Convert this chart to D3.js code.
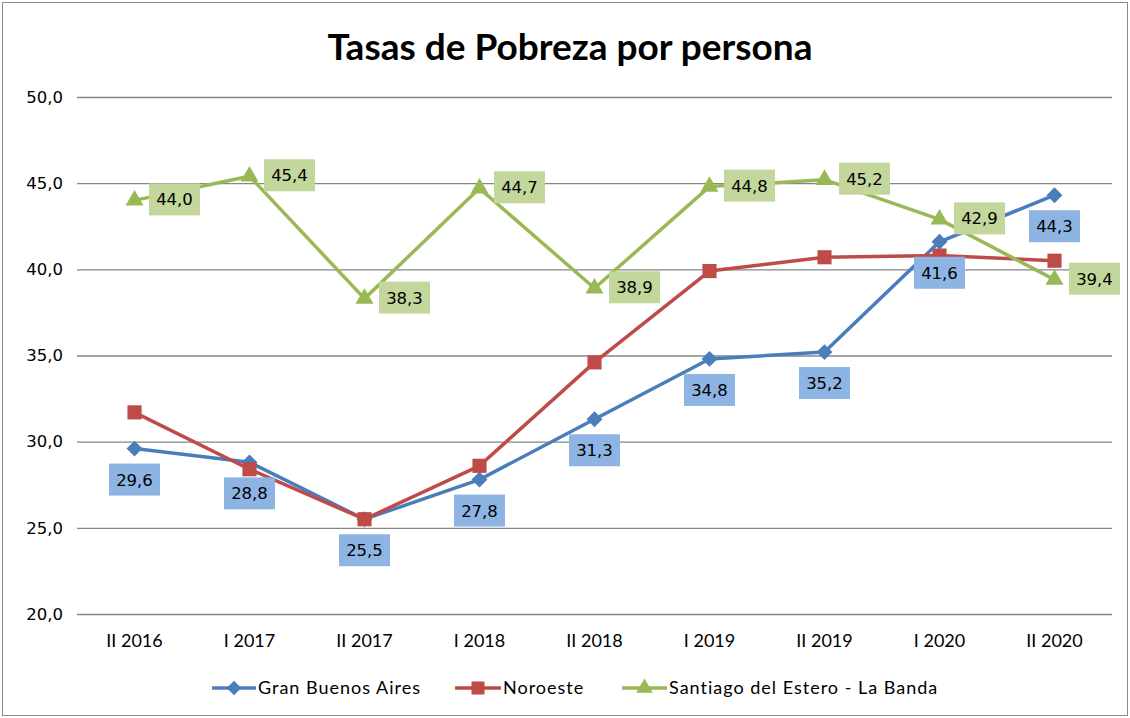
<!DOCTYPE html>
<html>
<head>
<meta charset="utf-8">
<script src="https://cdn.jsdelivr.net/npm/d3@7"></script>
<style>
  html, body { margin: 0; padding: 0; background: #fff; }
  svg { display: block; }
</style>
</head>
<body>
<div id="chart"></div>
<script>
const categories = ["II 2016", "I 2017", "II 2017", "I 2018", "II 2018", "I 2019", "II 2019", "I 2020", "II 2020"];
const gbaValues = [29.6, 28.8, 25.5, 27.8, 31.3, 34.8, 35.2, 41.6, 44.3];
const noaValues = [31.7, 28.4, 25.5, 28.6, 34.6, 39.9, 40.7, 40.8, 40.5];
const sdeValues = [44.0, 45.4, 38.3, 44.7, 38.9, 44.8, 45.2, 42.9, 39.4];
const yTicks = [20, 25, 30, 35, 40, 45, 50];
const seriesNames = ["Gran Buenos Aires", "Noroeste", "Santiago del Estero - La Banda"];
const title = "Tasas de Pobreza por persona";

const W = 1130, H = 718;
const svg = d3.select("#chart").append("svg").attr("width", W).attr("height", H);

svg.append("rect").attr("x", 2.5).attr("y", 2.5).attr("width", W - 5).attr("height", H - 5)
  .attr("fill", "#fff").attr("stroke", "#8c8c8c").attr("stroke-width", 1);

const x = d3.scaleBand().domain(categories).range([77, 1112]);
const y = d3.scaleLinear().domain([20, 50]).range([614, 97]);
const cx = c => x(c) + x.bandwidth() / 2;

const fmt = v => d3.format(".1f")(v).replace(".", ",");

// title
svg.append("text").attr("x", 570).attr("y", 60).attr("text-anchor", "middle")
  .attr("font-family", "Lato, 'Open Sans', sans-serif").attr("font-weight", "bold")
  .attr("font-size", 37).attr("fill", "#000").text(title);

// gridlines + y labels
const yAxis = d3.axisLeft(y).tickValues(yTicks).tickSize(-(1112 - 77)).tickFormat(fmt).tickPadding(14);
const gy = svg.append("g").attr("transform", "translate(77,0)").call(yAxis);
gy.select(".domain").remove();
gy.selectAll(".tick line").attr("stroke", "#868686").attr("stroke-width", 1.3);
gy.selectAll(".tick text").attr("font-family", "'DejaVu Sans', Verdana, sans-serif")
  .attr("font-size", 16.5).attr("fill", "#000");

// x axis labels
const xAxis = d3.axisBottom(x).tickSize(0).tickPadding(20);
const gx = svg.append("g").attr("transform", "translate(0,614)").call(xAxis);
gx.select(".domain").remove();
gx.selectAll(".tick text").attr("font-family", "Lato, 'Open Sans', sans-serif")
  .attr("font-size", 18).attr("fill", "#000");

const colors = ["#4A7EBB", "#BE4B48", "#98B954"];
const labelFill = ["#8EB4E3", "#8EB4E3", "#C3D69B"];
const allSeries = [gbaValues, noaValues, sdeValues];
const markerTypes = [d3.symbolDiamond2, d3.symbolSquare, d3.symbolTriangle];
const markerSizes = [160, 200, 140];

const line = d3.line().x((d, i) => cx(categories[i])).y(d => y(d));

allSeries.forEach((vals, s) => {
  const g = svg.append("g");
  g.append("path").datum(vals).attr("d", line).attr("fill", "none")
    .attr("stroke", colors[s]).attr("stroke-width", 3.5).attr("stroke-linejoin", "round");
  g.selectAll("path.m").data(vals).enter().append("path").attr("class", "m")
    .attr("transform", (d, i) => `translate(${cx(categories[i])},${y(d)})`)
    .attr("d", d3.symbol().type(markerTypes[s]).size(markerSizes[s]))
    .attr("fill", colors[s]);
});

// data labels: blue below, green right
function drawLabels(vals, s, dx, dy) {
  const g = svg.append("g");
  vals.forEach((d, i) => {
    const px = cx(categories[i]) + dx, py = y(d) + dy;
    g.append("rect").attr("x", px - 25.5).attr("y", py - 16).attr("width", 51).attr("height", 32)
      .attr("fill", labelFill[s]);
    g.append("text").attr("x", px).attr("y", py).attr("dy", "0.36em").attr("text-anchor", "middle")
      .attr("font-family", "'DejaVu Sans', Verdana, sans-serif").attr("font-size", 16.5)
      .attr("fill", "#000").text(fmt(d));
  });
}
drawLabels(gbaValues, 0, 0, 31);
drawLabels(sdeValues, 2, 40, -1);

// legend
const legendItems = [
  { x0: 212, tx: 258 },
  { x0: 455, tx: 503 },
  { x0: 622, tx: 669 }
];
legendItems.forEach((it, s) => {
  const g = svg.append("g");
  const x1 = it.tx - 2;
  g.append("line").attr("x1", it.x0).attr("x2", x1).attr("y1", 688).attr("y2", 688)
    .attr("stroke", colors[s]).attr("stroke-width", 3.5);
  g.append("path").attr("transform", `translate(${(it.x0 + x1) / 2},688)`)
    .attr("d", d3.symbol().type(markerTypes[s]).size(markerSizes[s] * 0.85)).attr("fill", colors[s]);
  g.append("text").attr("x", it.tx).attr("y", 688).attr("dy", "0.35em")
    .attr("font-family", "Lato, 'Open Sans', sans-serif").attr("font-size", 18)
    .attr("letter-spacing", 1)
    .attr("fill", "#000").text(seriesNames[s]);
});
</script>
</body>
</html>
